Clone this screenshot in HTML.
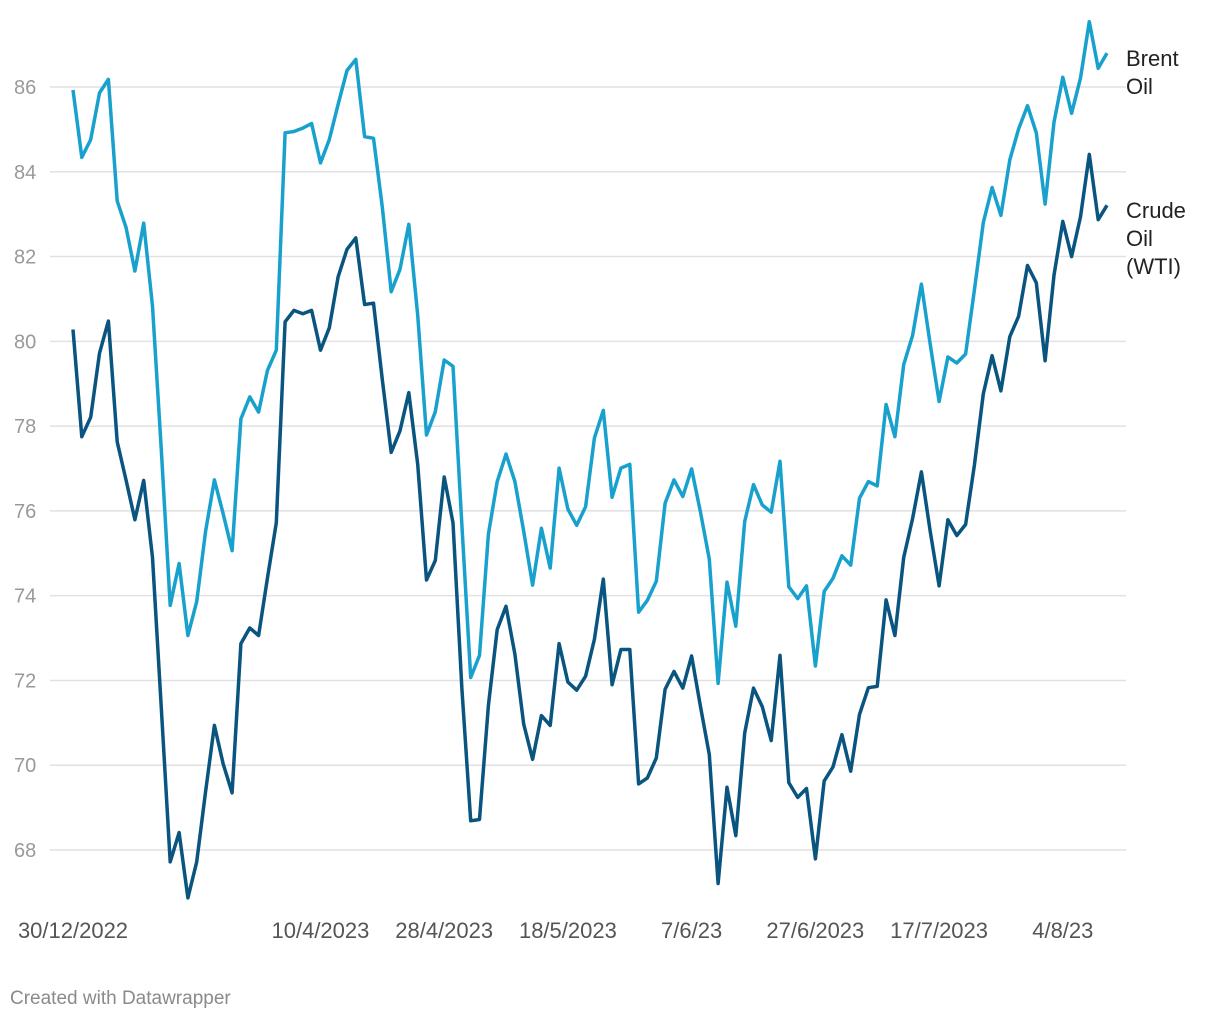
<!DOCTYPE html>
<html><head><meta charset="utf-8"><style>
body{margin:0;background:#fff;font-family:"Liberation Sans",sans-serif;}
svg{display:block}
</style></head><body>
<svg id="chart" width="1220" height="1020" xmlns="http://www.w3.org/2000/svg">
<g id="grid"></g>
<g id="ylabels"></g>
<g id="xlabels"></g>
<g id="lines"></g>
<text x="1126" y="66" font-size="22" fill="#222">Brent</text>
<text x="1126" y="94" font-size="22" fill="#222">Oil</text>
<text x="1126" y="218" font-size="22" fill="#222">Crude</text>
<text x="1126" y="246" font-size="22" fill="#222">Oil</text>
<text x="1126" y="274" font-size="22" fill="#222">(WTI)</text>
<text x="10" y="1004" font-size="19" fill="#8a8a8a">Created with Datawrapper</text>
</svg>
<script>
const brent=[85.93,84.34,84.76,85.86,86.18,83.31,82.69,81.66,82.79,80.83,77.4,73.77,74.76,73.06,73.86,75.52,76.73,75.93,75.06,78.17,78.69,78.33,79.31,79.79,84.92,84.95,85.03,85.14,84.21,84.76,85.59,86.39,86.65,84.83,84.79,83.17,81.17,81.70,82.76,80.62,
77.79,78.34,79.56,79.41,75.66,72.07,72.59,75.45,76.69,77.34,76.69,75.52,74.25,75.59,74.65,77.01,76.04,75.66,76.10,77.72,78.37,76.32,77.01,77.10,73.61,73.89,74.34,76.18,76.73,76.34,76.99,75.97,74.86,71.93,74.32,73.28,75.75,76.62,76.14,75.97,
77.17,74.21,73.93,74.23,72.34,74.10,74.41,74.94,74.72,76.30,76.69,76.59,78.51,77.75,79.45,80.14,81.35,79.93,78.58,79.63,79.49,79.70,81.21,82.80,83.63,82.97,84.28,85.01,85.56,84.92,83.24,85.17,86.23,85.38,86.21,87.54,86.44,86.80];
const wti=[80.28,77.75,78.21,79.72,80.48,77.63,76.73,75.79,76.72,74.90,71.31,67.72,68.41,66.87,67.72,69.38,70.94,70.03,69.35,72.87,73.24,73.06,74.41,75.72,80.46,80.73,80.65,80.73,79.79,80.32,81.52,82.17,82.44,80.87,80.90,79.10,77.38,77.89,78.79,77.10,
74.37,74.83,76.80,75.72,71.8,68.69,68.72,71.41,73.20,73.75,72.62,70.97,70.14,71.17,70.94,72.87,71.96,71.77,72.10,72.97,74.39,71.90,72.73,72.73,69.56,69.70,70.17,71.79,72.21,71.82,72.58,71.38,70.25,67.21,69.48,68.34,70.76,71.82,71.38,70.58,
72.59,69.59,69.24,69.45,67.79,69.63,69.96,70.72,69.86,71.20,71.83,71.86,73.90,73.06,74.90,75.82,76.92,75.52,74.23,75.79,75.42,75.68,77.08,78.76,79.66,78.83,80.11,80.59,81.79,81.38,79.54,81.56,82.83,82.00,82.94,84.41,82.87,83.21];
const yTicks=[68,70,72,74,76,78,80,82,84,86];
const xTickIdx=[0,28,42,56,70,84,98,112];
const xTickLabels=["30/12/2022","10/4/2023","28/4/2023","18/5/2023","7/6/23","27/6/2023","17/7/2023","4/8/23"];
const NS="http://www.w3.org/2000/svg";
const x0=73,x1=1107;
function xs(i){return x0+(x1-x0)*i/(brent.length-1);}
function ys(v){return 87+(86-v)*(850-87)/18;}
const grid=document.getElementById('grid'),yl=document.getElementById('ylabels'),xl=document.getElementById('xlabels'),lg=document.getElementById('lines');
yTicks.forEach(t=>{
  const l=document.createElementNS(NS,'line');
  
  
  l.setAttribute('x1',50);l.setAttribute('x2',1126);l.setAttribute('y1',ys(t));l.setAttribute('y2',ys(t));
  l.setAttribute('stroke','#e1e1e1');l.setAttribute('stroke-width','1.5');grid.appendChild(l);
  const tx=document.createElementNS(NS,'text');
  
  
  tx.setAttribute('x',14);tx.setAttribute('y',ys(t)+7);tx.setAttribute('font-size','20');tx.setAttribute('fill','#999');
  tx.textContent=t;yl.appendChild(tx);
});
xTickIdx.forEach((idx,k)=>{
  const tx=document.createElementNS(NS,'text');
  
  
  tx.setAttribute('x',xs(idx));tx.setAttribute('y',938);tx.setAttribute('font-size','22');tx.setAttribute('fill','#555');
  tx.setAttribute('text-anchor','middle');
  tx.textContent=xTickLabels[k];xl.appendChild(tx);
});
function drawLine(arr,color,name){
  const p=document.createElementNS(NS,'polyline');
  
  
  p.setAttribute('points',arr.map((v,i)=>xs(i).toFixed(1)+','+ys(v).toFixed(1)).join(' '));
  p.setAttribute('fill','none');p.setAttribute('stroke',color);p.setAttribute('stroke-width','3.5');
  p.setAttribute('stroke-linejoin','round');lg.appendChild(p);
}
drawLine(brent,'#18a1cd','brent-oil-line');
drawLine(wti,'#09557f','wti-crude-line');
</script>
</body></html>
